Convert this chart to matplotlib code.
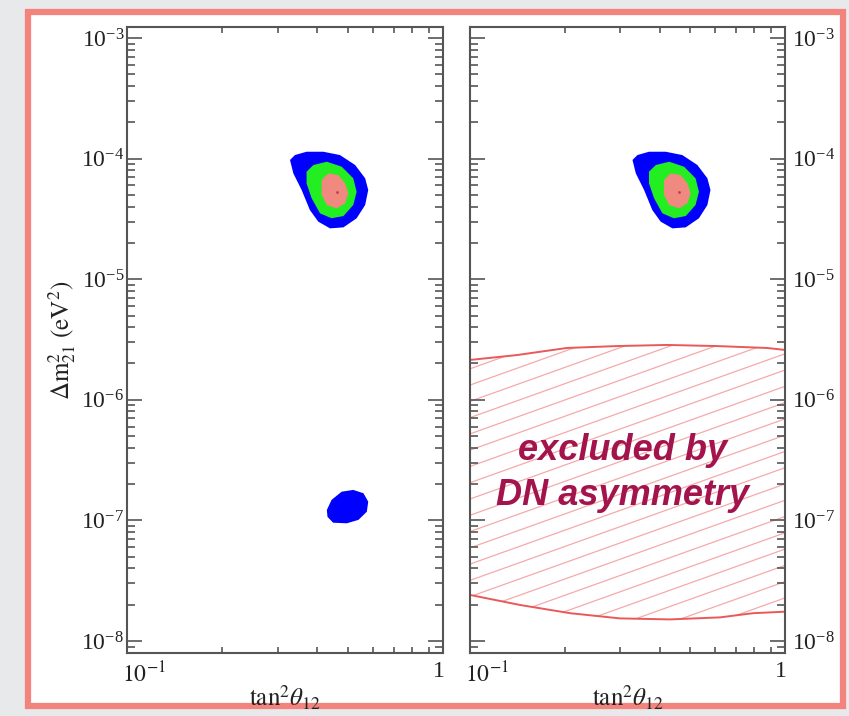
import numpy as np
import matplotlib
matplotlib.use('Agg')
from matplotlib import pyplot as plt
from matplotlib import patches
from matplotlib.transforms import ScaledTranslation
from matplotlib.ticker import FixedLocator, LogLocator, NullFormatter

plt.rcParams['font.family'] = ['Liberation Serif', 'DejaVu Serif']
plt.rcParams['mathtext.fontset'] = 'stix'

# allowed regions (LMA): tan^2(theta12), dm^2_21 [eV^2]
blue_x = [0.328, 0.340, 0.370, 0.418, 0.472, 0.527, 0.567, 0.580,
          0.567, 0.533, 0.484, 0.439, 0.403, 0.379, 0.357, 0.336]
blue_y = [9.74e-5, 1.07e-4, 1.14e-4, 1.14e-4, 1.07e-4, 8.85e-5, 6.87e-5, 5.49e-5,
          4.12e-5, 3.20e-5, 2.69e-5, 2.64e-5, 3.00e-5, 3.75e-5, 5.49e-5, 7.55e-5]
green_x = [0.370, 0.389, 0.429, 0.478, 0.520, 0.533, 0.520, 0.484,
           0.444, 0.408, 0.384, 0.370]
green_y = [7.79e-5, 8.85e-5, 9.42e-5, 8.57e-5, 6.87e-5, 5.31e-5, 4.12e-5, 3.34e-5,
           3.20e-5, 3.52e-5, 4.69e-5, 6.24e-5]
red_x = [0.413, 0.434, 0.466, 0.490, 0.502, 0.490, 0.461, 0.429, 0.413]
red_y = [6.65e-5, 7.55e-5, 7.31e-5, 6.24e-5, 5.16e-5, 4.26e-5, 3.87e-5, 4.12e-5, 4.99e-5]
best_fit = (0.461, 5.31e-5)

# LOW island (left panel only)
low_x = [0.429, 0.444, 0.478, 0.520, 0.560, 0.580, 0.574, 0.540, 0.496, 0.449, 0.431]
low_y = [1.22e-7, 1.48e-7, 1.73e-7, 1.79e-7, 1.68e-7, 1.43e-7, 1.18e-7, 1.01e-7,
         9.46e-8, 9.57e-8, 1.07e-7]

# day-night asymmetry exclusion band (right panel)
dn_top_x = [0.1, 0.141, 0.203, 0.293, 0.422, 0.608, 0.877, 1.0]
dn_top_y = [2.14e-6, 2.35e-6, 2.69e-6, 2.79e-6, 2.85e-6, 2.79e-6, 2.69e-6, 2.59e-6]
dn_bot_x = [0.1, 0.144, 0.208, 0.299, 0.431, 0.622, 0.791, 1.0]
dn_bot_y = [2.41e-8, 1.99e-8, 1.70e-8, 1.54e-8, 1.51e-8, 1.57e-8, 1.70e-8, 1.75e-8]

x_ticks = [0.1, 1.0]
x_ticklabels = [r'$10^{-1}$', '1']
y_lim = (10 ** -8.0995, 10 ** -2.9088)

fig = plt.figure(figsize=(8.49, 7.16), dpi=100)
fig.patch.set_facecolor('#e8e9eb')
frame = patches.Rectangle((28 / 849, 1 - 706 / 716), 815 / 849, 694 / 716,
                          transform=fig.transFigure, facecolor='white',
                          edgecolor='#f2837d', lw=4.5, zorder=-5)
fig.patches.append(frame)

ax_l = fig.add_axes([127 / 849, 63 / 716, 316 / 849, 626 / 716])
ax_r = fig.add_axes([470 / 849, 63 / 716, 315 / 849, 626 / 716])


def draw_lma(ax):
    ax.fill(blue_x, blue_y, color='#0000ff', lw=0, zorder=2)
    ax.fill(green_x, green_y, color='#22ee22', lw=0, zorder=3)
    ax.fill(red_x, red_y, color='#f08a80', lw=0, zorder=4)
    ax.plot(*best_fit, '.', color='#c04050', ms=2, zorder=5)


def style_axes(ax, side):
    ax.set_facecolor('white')
    ax.set_xscale('log')
    ax.set_yscale('log')
    ax.set_xlim(0.1, 1.0)
    ax.set_ylim(*y_lim)
    ax.xaxis.set_major_locator(FixedLocator(x_ticks))
    ax.set_xticklabels(x_ticklabels)
    ax.xaxis.set_minor_locator(LogLocator(base=10, subs=np.arange(2, 10)))
    ax.xaxis.set_minor_formatter(NullFormatter())
    ax.yaxis.set_major_locator(LogLocator(base=10, numticks=10))
    ax.yaxis.set_minor_locator(LogLocator(base=10, subs=np.arange(2, 10), numticks=20))
    ax.yaxis.set_minor_formatter(NullFormatter())
    ax.tick_params(which='both', direction='in', top=True, right=True,
                   color='#555555', width=1.2, labelsize=17, labelcolor='#222222')
    ax.tick_params(which='major', length=11)
    ax.tick_params(which='minor', length=6)
    ax.tick_params(axis='x', which='minor', length=4)
    ax.tick_params(axis='x', which='major', length=0, pad=6)
    if side == 'right':
        ax.tick_params(axis='y', labelleft=False, labelright=True, pad=5)
    else:
        ax.tick_params(axis='y', pad=2)
    # x labels sit just inside the panel edges
    lab_lo, lab_hi = ax.get_xticklabels()
    lab_lo.set_horizontalalignment('left')
    lab_lo.set_transform(lab_lo.get_transform() + ScaledTranslation(-5 / 100, 0, fig.dpi_scale_trans))
    lab_hi.set_transform(lab_hi.get_transform() + ScaledTranslation(-4 / 100, 0, fig.dpi_scale_trans))
    for s in ax.spines.values():
        s.set_color('#555555')
        s.set_linewidth(1.5)
    ax.set_xlabel(r'$\mathrm{tan}^2\theta_{12}$', fontsize=18, labelpad=-2, color='#222222')


draw_lma(ax_l)
ax_l.fill(low_x, low_y, color='#0000ff', lw=0, zorder=2)
style_axes(ax_l, 'left')
ax_l.set_ylabel(r'$\Delta\mathrm{m}^2_{21}\ (\mathrm{eV}^2)$', fontsize=18, labelpad=2,
                color='#222222')

style_axes(ax_r, 'right')
band_x = dn_top_x + dn_bot_x[::-1]
band_y = dn_top_y + dn_bot_y[::-1]
band = ax_r.fill(band_x, band_y, facecolor='none', edgecolor='none', zorder=1)[0]
# shallow diagonal hatching clipped to the band
for c in np.arange(-0.3, 1.2, 0.026):
    ln, = ax_r.plot([0, 1], [c, c + 0.18], transform=ax_r.transAxes,
                    color='#f5aaaa', lw=0.9, zorder=1)
    ln.set_clip_path(band)
ax_r.plot(dn_top_x, dn_top_y, color='#e85a5a', lw=1.4, zorder=2)
ax_r.plot(dn_bot_x, dn_bot_y, color='#e85a5a', lw=1.4, zorder=2)
draw_lma(ax_r)
ax_r.text(0.483, 0.2875, 'excluded by\nDN asymmetry', transform=ax_r.transAxes,
          ha='center', va='center', fontsize=26, fontweight='bold', style='italic',
          color='#a3144c', family=['Liberation Sans', 'DejaVu Sans'], linespacing=1.4,
          zorder=6)

fig.savefig('out.png', dpi=100, facecolor=fig.get_facecolor())
